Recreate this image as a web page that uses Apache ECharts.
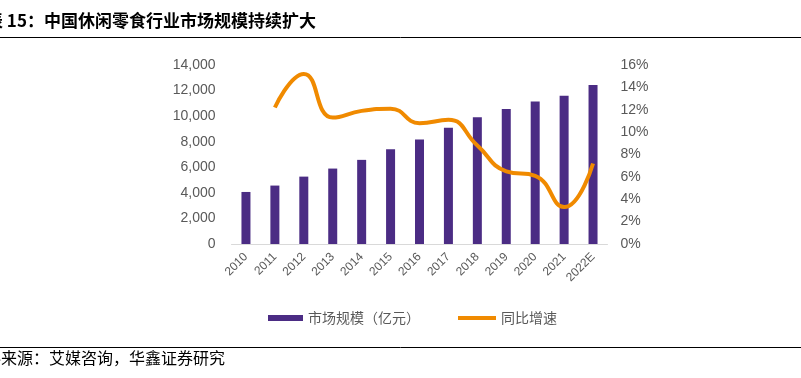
<!DOCTYPE html>
<html><head><meta charset="utf-8">
<script src="https://cdn.jsdelivr.net/npm/echarts@6/dist/echarts.min.js"></script>
<style>html,body{margin:0;padding:0;background:#fff}#c{width:801px;height:378px}</style>
</head><body><div id="c"></div>
<script>
const categories = ['2010','2011','2012','2013','2014','2015','2016','2017','2018','2019','2020','2021','2022E'];
const marketSize = [4070, 4570, 5270, 5900, 6580, 7420, 8170, 9090, 9920, 10550, 11150, 11590, 12430];
const growthRate = [null, 0.122, 0.152, 0.113, 0.119, 0.121, 0.108, 0.111, 0.088, 0.065, 0.061, 0.033, 0.072];
const leftTicks = {min: 0, max: 14000, interval: 2000};
const rightTicks = {min: 0, max: 0.16, interval: 0.02};
const titleText = '图表 15：中国休闲零食行业市场规模持续扩大';
const sourceText = '资料来源：艾媒咨询，华鑫证券研究';
const seriesNames = ['市场规模（亿元）', '同比增速'];

const font = '"Liberation Sans", Arial, "Noto Sans CJK SC", sans-serif';
const cjk = '"Noto Sans CJK SC", sans-serif';
const gray = '#595959';
const purple = '#4B2C84';
const orange = '#F08A00';

const chart = echarts.init(document.getElementById('c'));
chart.setOption({
  animation: false,
  textStyle: {fontFamily: font},
  grid: {left: 231.5, right: 193.5, top: 65, bottom: 134},
  legend: [
    {data: [{name: seriesNames[0], icon: 'rect'}], left: 268, top: 311, padding: 0, itemWidth: 35, itemHeight: 6, itemGap: 4,
     textStyle: {color: gray, fontSize: 14, fontFamily: cjk}},
    {data: [{name: seriesNames[1], icon: 'rect'}], left: 458, top: 311, padding: 0, itemWidth: 38, itemHeight: 4, itemGap: 4,
     textStyle: {color: gray, fontSize: 14, fontFamily: cjk}}
  ],
  xAxis: {
    type: 'category', data: categories,
    axisLine: {lineStyle: {color: '#d9d9d9', width: 1}},
    axisTick: {show: false},
    axisLabel: {rotate: 45, color: gray, fontSize: 12, margin: 11, interval: 0}
  },
  yAxis: [
    {type: 'value', min: leftTicks.min, max: leftTicks.max, interval: leftTicks.interval,
     splitLine: {show: false}, axisLine: {show: false}, axisTick: {show: false},
     axisLabel: {color: gray, fontSize: 14, margin: 16,
       formatter: v => v.toLocaleString('en-US')}},
    {type: 'value', min: rightTicks.min, max: rightTicks.max, interval: rightTicks.interval,
     splitLine: {show: false}, axisLine: {show: false}, axisTick: {show: false},
     axisLabel: {color: gray, fontSize: 14, margin: 13,
       formatter: v => Math.round(v * 100) + '%'}}
  ],
  series: [
    {name: seriesNames[0], type: 'bar', data: marketSize, barWidth: 9,
     itemStyle: {color: purple}},
    {name: seriesNames[1], type: 'line', yAxisIndex: 1, data: growthRate, smooth: 0.5,
     showSymbol: false, symbol: 'none', connectNulls: false,
     lineStyle: {color: orange, width: 4}, itemStyle: {color: orange}}
  ],
  graphic: [
    {type: 'text', left: -31, top: 12, style: {text: titleText, fontSize: 17, fontWeight: 'bold', fill: '#000', fontFamily: cjk}},
    {type: 'line', shape: {x1: 0, y1: 37.5, x2: 801, y2: 37.5}, style: {stroke: '#000', lineWidth: 1}},
    {type: 'line', shape: {x1: 0, y1: 347.5, x2: 801, y2: 347.5}, style: {stroke: '#000', lineWidth: 1}},
    {type: 'text', left: -31, top: 350, style: {text: sourceText, fontSize: 16, fill: '#000', fontFamily: cjk}}
  ]
});
</script></body></html>
